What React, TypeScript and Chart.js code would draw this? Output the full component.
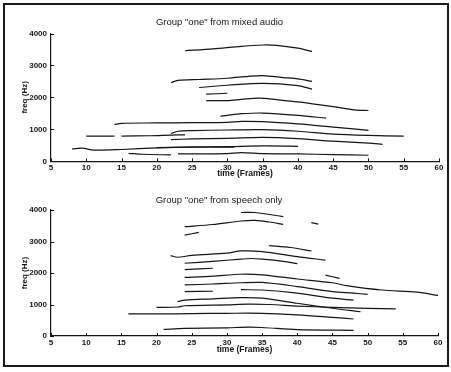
import React, { useEffect, useRef } from 'react';
import { Chart, registerables } from 'chart.js';

Chart.register(...registerables);

// ---- axis settings ----
const X_MIN = 5;
const X_MAX = 60;
const X_STEP = 5;
const Y_MIN = 0;
const Y_MAX = 4000;
const Y_STEP = 1000;

// ---- texts ----
const TOP_TITLE = 'Group "one" from mixed audio';
const BOTTOM_TITLE = 'Group "one" from speech only';
const X_LABEL = 'time (Frames)';
const Y_LABEL = 'freq (Hz)';

// ---- tracks: each is a list of [frame, Hz] ----
const MIXED_TRACKS: number[][][] = [
  [[24, 3460], [28, 3520], [32, 3600], [35, 3640], [37, 3630], [40, 3540], [42, 3440]],
  [[22, 2460], [23, 2530], [26, 2560], [30, 2600], [33, 2660], [35, 2680], [38, 2620], [40, 2580], [42, 2500]],
  [[26, 2310], [30, 2380], [35, 2440], [40, 2370], [42, 2260]],
  [[27, 2100], [30, 2130]],
  [[27, 1900], [30, 1900], [32, 1940], [34.5, 1980], [37, 1930], [40, 1860], [45, 1710], [48, 1610], [50, 1590]],
  [[29, 1410], [30, 1440], [32, 1490], [35, 1510], [40, 1440], [44, 1350]],
  [[14, 1150], [15, 1190], [20, 1200], [25, 1210], [30, 1220], [32, 1250], [35, 1240], [40, 1170], [45, 1070], [50, 970]],
  [[22, 870], [23, 940], [25, 960], [30, 980], [35, 990], [40, 940], [45, 850], [50, 810], [55, 790]],
  [[10, 790], [14, 790]],
  [[15, 790], [19, 800], [22, 820], [24, 830]],
  [[22, 680], [25, 700], [30, 720], [35, 750], [40, 710], [45, 630], [50, 570], [52, 530]],
  [[8, 390], [9.5, 410], [11, 350], [15, 370], [20, 420], [25, 450], [30, 460], [35, 480], [40, 470]],
  [[20, 430], [25, 440], [31, 440]],
  [[16, 250], [18, 220], [22, 200]],
  [[23, 230], [30, 240], [32, 270], [35, 240], [40, 230], [45, 210], [50, 190]],
];

const SPEECH_TRACKS: number[][][] = [
  [[24, 3470], [28, 3540], [32, 3650], [34, 3670], [36, 3620], [38, 3545]],
  [[32, 3920], [34, 3920], [38, 3790]],
  [[42, 3600], [43, 3550]],
  [[24, 3200], [26, 3290]],
  [[36, 2870], [39, 2810], [42, 2700]],
  [[22, 2550], [23, 2500], [25, 2560], [30, 2630], [32, 2700], [35, 2680], [40, 2520], [44, 2410]],
  [[24, 2310], [28, 2370], [32, 2440], [33.5, 2460], [35, 2440], [38, 2370], [40, 2300]],
  [[24, 2110], [28, 2150]],
  [[24, 1860], [28, 1900], [32, 1960], [35, 1940], [40, 1810], [45, 1690], [47, 1600], [52, 1460], [57, 1390], [60, 1290]],
  [[44, 1930], [46, 1830]],
  [[24, 1620], [28, 1650], [32, 1690], [35, 1700], [40, 1570], [45, 1410], [48, 1360], [50, 1320]],
  [[24, 1410], [28, 1420]],
  [[32, 1470], [35, 1460], [40, 1360], [45, 1200], [48, 1140]],
  [[23, 1090], [24, 1140], [28, 1180], [32, 1220], [35, 1200], [40, 1040], [45, 880], [49, 770]],
  [[20, 910], [23, 920], [24, 960], [30, 990], [33, 1010], [36, 1000], [40, 950], [45, 910], [50, 880], [54, 860]],
  [[16, 700], [20, 700], [25, 710], [30, 720], [35, 720], [40, 670], [45, 590], [48, 540]],
  [[21, 210], [24, 240], [30, 260], [33, 280], [35, 270], [40, 200], [48, 180]],
];

const FONT = '"Liberation Sans", Arial, Helvetica, sans-serif';
const INK = '#151515';

const inwardTicks = {
  id: 'inwardTicks',
  afterDraw(chart: any) {
    const ctx = chart.ctx;
    const xs = chart.scales.x;
    const ys = chart.scales.y;
    ctx.save();
    ctx.strokeStyle = INK;
    ctx.lineWidth = 1;
    ctx.beginPath();
    xs.ticks.forEach((t: any) => {
      const px = Math.round(xs.getPixelForValue(t.value)) + 0.5;
      ctx.moveTo(px, xs.top);
      ctx.lineTo(px, xs.top - 3);
    });
    ys.ticks.forEach((t: any) => {
      const py = Math.round(ys.getPixelForValue(t.value)) + 0.5;
      ctx.moveTo(ys.right, py);
      ctx.lineTo(ys.right + 3, py);
    });
    ctx.stroke();
    ctx.restore();
  },
};

type Geom = {
  titleTop: number;
  titleBottom: number;
  xHeight: number;
  padRight: number;
  padBottom: number;
  xTickPad: number;
  xTitlePadBottom: number;
};

function makeConfig(tracks: number[][][], title: string, g: Geom): any {
  return {
    type: 'line',
    data: {
      datasets: tracks.map((tr) => ({
        data: tr.map(([x, y]) => ({ x, y })),
        borderColor: INK,
        borderWidth: 1.2,
        pointRadius: 0,
        tension: 0.3,
        fill: false,
      })),
    },
    options: {
      responsive: false,
      animation: false,
      devicePixelRatio: 1,
      layout: { padding: { left: 0, top: 0, right: g.padRight, bottom: g.padBottom } },
      plugins: {
        legend: { display: false },
        tooltip: { enabled: false },
        title: {
          display: true,
          text: title,
          color: INK,
          font: { family: FONT, size: 9.5, weight: 'normal', lineHeight: 1.2 },
          padding: { top: g.titleTop, bottom: g.titleBottom },
        },
      },
      scales: {
        x: {
          type: 'linear',
          min: X_MIN,
          max: X_MAX,
          grid: { display: false, drawTicks: false },
          border: { display: true, color: INK, width: 1.2 },
          ticks: {
            stepSize: X_STEP,
            color: INK,
            padding: g.xTickPad,
            maxRotation: 0,
            callback: (v: any) => String(v),
            font: { family: FONT, size: 8, weight: 'bold', lineHeight: 1 },
          },
          title: {
            display: true,
            text: X_LABEL,
            color: INK,
            font: { family: FONT, size: 8.5, weight: 'bold', lineHeight: 1 },
            padding: { top: 0, bottom: g.xTitlePadBottom },
          },
          afterFit: (s: any) => {
            s.height = g.xHeight;
          },
        },
        y: {
          type: 'linear',
          min: Y_MIN,
          max: Y_MAX,
          grid: { display: false, drawTicks: false },
          border: { display: true, color: INK, width: 1.2 },
          ticks: {
            stepSize: Y_STEP,
            color: INK,
            padding: 4,
            callback: (v: any) => String(v),
            font: { family: FONT, size: 8, weight: 'bold', lineHeight: 1 },
          },
          title: {
            display: true,
            text: Y_LABEL,
            color: INK,
            font: { family: FONT, size: 8, weight: 'bold', lineHeight: 1 },
            padding: { top: 21, bottom: 0 },
          },
          afterFit: (s: any) => {
            s.width = 51;
          },
        },
      },
    },
    plugins: [inwardTicks],
  };
}

function Panel({ tracks, title, g, top, height }: { tracks: number[][][]; title: string; g: Geom; top: number; height: number }) {
  const ref = useRef<HTMLCanvasElement | null>(null);
  useEffect(() => {
    if (!ref.current) return;
    const chart = new Chart(ref.current, makeConfig(tracks, title, g));
    return () => chart.destroy();
  }, []);
  return (
    <canvas
      ref={ref}
      width={451}
      height={height}
      style={{ position: 'absolute', left: 0, top, width: 451, height }}
    />
  );
}

const TOP_GEOM: Geom = { titleTop: 17, titleBottom: 5.1, xHeight: 18.7, padRight: 12, padBottom: 5, xTickPad: 2, xTitlePadBottom: 2 };
const BOTTOM_GEOM: Geom = { titleTop: 9.3, titleBottom: 4.3, xHeight: 21, padRight: 13, padBottom: 15, xTickPad: 3, xTitlePadBottom: 3 };

export default function App() {
  return (
    <div style={{ position: 'fixed', left: 0, top: 0, width: 451, height: 372, background: '#fff', overflow: 'hidden' }}>
      <Panel tracks={MIXED_TRACKS} title={TOP_TITLE} g={TOP_GEOM} top={0} height={185} />
      <Panel tracks={SPEECH_TRACKS} title={BOTTOM_TITLE} g={BOTTOM_GEOM} top={185} height={187} />
      <div
        style={{
          position: 'absolute',
          left: 3,
          top: 3,
          width: 446,
          height: 364,
          border: '2px solid #1a1a1a',
          boxSizing: 'border-box',
          pointerEvents: 'none',
        }}
      />
    </div>
  );
}
